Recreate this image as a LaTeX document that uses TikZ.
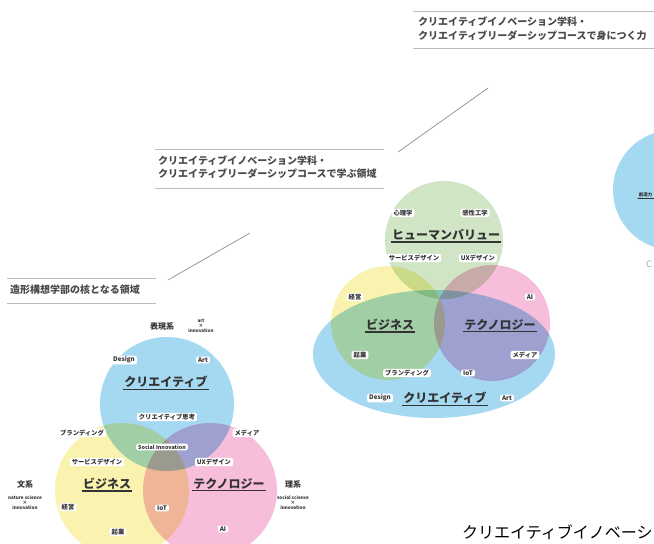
\documentclass[tikz,border=0pt]{standalone}
\usepackage{fontspec}
\newfontfamily\jp{Noto Sans CJK JP}
\definecolor{cblue}{HTML}{99D4F1}
\definecolor{cyellow}{HTML}{F9F2A4}
\definecolor{cpink}{HTML}{F5B6D7}
\definecolor{cgreen}{HTML}{CAE2BE}
\definecolor{txt}{HTML}{333333}
\definecolor{htxt}{HTML}{4A4A4A}
\definecolor{hline}{HTML}{BDBDBD}
\tikzset{
  venn/.style={blend mode=multiply, fill opacity=0.88},
  small/.style={font=\jp\bfseries\fontsize{6.3}{7}\selectfont, text=txt, fill=white, rounded corners=2pt, inner xsep=2pt, inner ysep=1pt},
  tiny/.style={font=\jp\bfseries\fontsize{4.6}{5}\selectfont, text=txt, align=center, inner sep=0pt},
  big/.style={font=\jp\bfseries\fontsize{12}{13}\selectfont, text=txt, inner sep=1.2pt},
  side/.style={font=\jp\bfseries\fontsize{8}{9}\selectfont, text=txt, inner sep=0pt},
  uline/.style={draw=txt, line width=1.1pt},
  hdr/.style={font=\jp\bfseries\fontsize{10}{13.5}\selectfont, text=htxt, align=left, anchor=west, inner sep=0pt},
  hrule/.style={draw=hline, line width=0.9pt},
  conn/.style={draw=black!40, line width=0.8pt}
}
\begin{document}
\begin{tikzpicture}[x=1pt,y=-1pt]
\useasboundingbox (0,0) rectangle (654,544);
\clip (0,0) rectangle (654,544);
\fill[white] (0,0) rectangle (654,544);

% ---------- headers ----------
\node[hdr] (h1) at (10,290) {造形構想学部の核となる領域};
\draw[hrule] (7,278) -- (156,278);
\draw[hrule] (7,303) -- (156,303);

\node[hdr] (h2) at (158,167) {クリエイティブイノベーション学科・\\クリエイティブリーダーシップコースで学ぶ領域};
\draw[hrule] (155,149) -- (384,149);
\draw[hrule] (155,188) -- (384,188);

\node[hdr] (h3) at (418,28.5) {クリエイティブイノベーション学科・\\クリエイティブリーダーシップコースで身につく力};
\draw[hrule] (413,11) -- (654,11);
\draw[hrule] (413,48) -- (654,48);

\coordinate (c1a) at (168,280);
\coordinate (c1b) at (250,233);
\coordinate (c2a) at (398,152);
\coordinate (c2b) at (488,88);
\draw[conn] (c1a) -- (c1b);
\draw[conn] (c2a) -- (c2b);

% ---------- left Venn ----------
\fill[cblue, venn] (167,404) circle (67);
\fill[cyellow, venn] (122,490) circle (67);
\fill[cpink, venn] (210,490) circle (67);

\node[side] (hyo) at (162,326) {表現系};
\node[tiny] (hyoe) at (201,326) {art\\×\\innovation};
\node[small] (ldes) at (124,360) {Design};
\node[small] (lart) at (203,360) {Art};
\node[big] (lcre) at (166,382) {クリエイティブ};
\draw[uline] (lcre.south west) -- (lcre.south east);
\node[small] (lthink) at (167,417) {クリエイティブ思考};
\node[small] (lbrand) at (82,433) {ブランディング};
\node[small] (lmedia) at (247,433) {メディア};
\node[small, font=\jp\bfseries\fontsize{5.4}{6}\selectfont] (lsoc) at (162,447) {Social Innovation};
\node[small] (lsvc) at (97,462) {サービスデザイン};
\node[small] (lux) at (214,462) {UXデザイン};
\node[side] (bun) at (25,484) {文系};
\node[tiny] (bune) at (25,503) {nature science\\×\\innovation};
\node[big] (lbiz) at (107,484) {ビジネス};
\draw[uline] (lbiz.south west) -- (lbiz.south east);
\node[big] (ltech) at (229,484) {テクノロジー};
\draw[uline] (ltech.south west) -- (ltech.south east);
\node[side] (ri) at (293,484) {理系};
\node[tiny] (rie) at (293,503) {social science\\×\\innovation};
\node[small] (lkei) at (68,507) {経営};
\node[small] (liot) at (162,508) {IoT};
\node[small] (lkig) at (118,532) {起業};
\node[small] (lai) at (223,529) {AI};

% ---------- middle Venn ----------
\fill[cblue, venn] (434,354) ellipse [x radius=121, y radius=64];
\fill[cgreen, venn] (444,240) circle (59);
\fill[cyellow, venn] (388,323) circle (57);
\fill[cpink, venn] (492,323) circle (58);

\node[small] (mpsy) at (403,213) {心理学};
\node[small] (mkan) at (475,213) {感性工学};
\node[big] (mhum) at (446,235) {ヒューマンバリュー};
\draw[uline] (mhum.south west) -- (mhum.south east);
\node[small] (msvc) at (414,258) {サービスデザイン};
\node[small] (mux) at (478,258) {UXデザイン};
\node[small] (mkei) at (355,297) {経営};
\node[small] (mai) at (530,297) {AI};
\node[big] (mbiz) at (390,325) {ビジネス};
\draw[uline] (mbiz.south west) -- (mbiz.south east);
\node[big] (mtech) at (500,325) {テクノロジー};
\draw[uline] (mtech.south west) -- (mtech.south east);
\node[small] (mkig) at (360,355) {起業};
\node[small] (mmed) at (525,355) {メディア};
\node[small] (mbrand) at (407,373) {ブランディング};
\node[small] (miot) at (468,373) {IoT};
\node[small] (mdes) at (380,398) {Design};
\node[big] (mcre) at (445,398) {クリエイティブ};
\draw[uline] (mcre.south west) -- (mcre.south east);
\node[small] (mart) at (507,398) {Art};

% ---------- right (cut off) ----------
\fill[cblue, venn] (673,190) circle (60);
\node[font=\jp\bfseries\fontsize{4.5}{5}\selectfont, text=txt, anchor=east, inner sep=1pt] (rlab) at (653.5,195) {創造力};
\draw[uline, line width=0.8pt] (rlab.south west) -- (654,198.5);
\node[font=\jp\fontsize{9}{10}\selectfont, text=black!35, anchor=west, inner sep=0pt] (rc) at (646,264) {C};

% ---------- bottom text ----------
\node[font=\jp\fontsize{16}{18}\selectfont, text=black, anchor=west, inner sep=0pt] (foot) at (462,532) {クリエイティブイノベーシ};
\end{tikzpicture}
\end{document}
